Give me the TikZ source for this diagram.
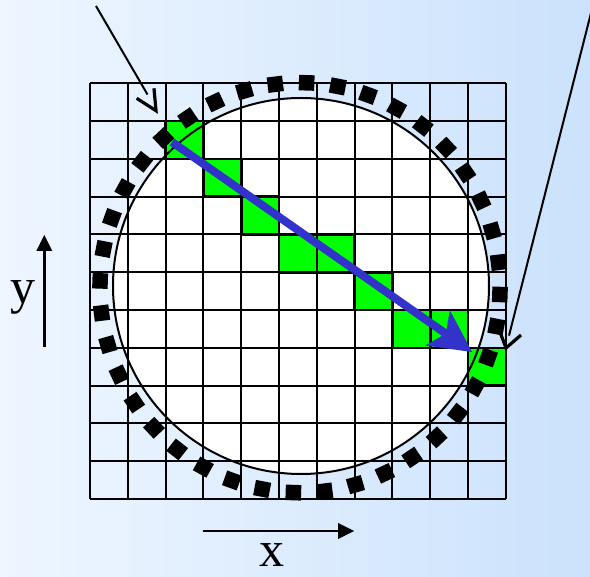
\documentclass[tikz,border=0pt]{standalone}
\usepackage{fontspec}
\setmainfont{Liberation Serif}
\usetikzlibrary{arrows.meta}
\definecolor{bgleft}{RGB}{238,246,255}
\definecolor{bgright}{RGB}{203,226,252}
\definecolor{cellgreen}{RGB}{0,255,0}
\definecolor{arrowblue}{RGB}{51,51,204}
\begin{document}
\begin{tikzpicture}[x=1pt,y=-1pt,
  gridline/.style={line width=2pt},
  greencell/.style={fill=cellgreen},
  greenedge/.style={draw=black,line width=2.6pt},
  dotsq/.style={fill=black,draw=none,minimum size=15.5pt,inner sep=0pt,outer sep=0pt},
  callout/.style={line width=2pt},
  barb/.style={line width=3.2pt},
  axisarrow/.style={line width=2.6pt,-{Triangle[length=16pt,width=16pt,line width=0pt]}},
  axislabel/.style={font=\fontsize{50}{60}\selectfont,inner sep=0pt,anchor=base}]
\useasboundingbox (0,0) rectangle (590,577);
\clip (0,0) rectangle (590,577);
\shade[left color=bgleft,right color=bgright] (0,0) rectangle (590,577);
\def\gx{90}\def\gy{83.3}\def\cs{37.8}
% white disc
\coordinate (cc) at (301,286);
\fill[white] (cc) circle[radius=188pt];
% green cells
\foreach \c/\r in {2/1,3/2,4/3,5/4,6/4,7/5,8/6,9/6,10/7}
  \fill[greencell] ({\gx+\c*\cs},{\gy+\r*\cs}) rectangle ({\gx+(\c+1)*\cs},{\gy+(\r+1)*\cs});
% grid
\foreach \i in {0,...,11} {
  \draw[gridline] ({\gx+\i*\cs},{\gy}) -- ({\gx+\i*\cs},{\gy+11*\cs});
  \draw[gridline] ({\gx},{\gy+\i*\cs}) -- ({\gx+11*\cs},{\gy+\i*\cs});
}
\foreach \c/\r in {2/1,3/2,4/3,5/4,6/4,7/5,8/6,9/6,10/7}
  \draw[greenedge] ({\gx+\c*\cs},{\gy+\r*\cs}) rectangle ({\gx+(\c+1)*\cs},{\gy+(\r+1)*\cs});
% circle outline
\draw[line width=2pt] (cc) circle[radius=188pt];
% blue arrow
\coordinate (bs) at (172,142);
\coordinate (be) at (472,352);
\draw[arrowblue,line width=8pt,-{Stealth[length=42pt,width=43pt,inset=10pt,line width=0pt]}] (bs) -- (be);
% dotted ring of squares
\foreach \i in {0,...,39} {
  \pgfmathsetmacro\ang{-88.1+9*\i}
  \pgfmathsetmacro\rot{-\ang}
  \node[dotsq,rotate=\rot] (d\i) at ({300+200*cos(\ang)},{287.7+205*sin(\ang)}) {};
}
% callout 1
\coordinate (c1s) at (96,6);
\coordinate (c1e) at (147.5,94.5);
\coordinate (c1t) at (156,110.7);
\coordinate (c1a) at (136.7,98.3);
\coordinate (c1b) at (154,88.3);
\draw[callout] (c1s) -- (c1e);
\draw[barb] (c1a) -- (c1t) -- (c1b);
% callout 2
\coordinate (c2s) at (594.3,0);
\coordinate (c2e) at (509,335.6);
\coordinate (c2t) at (506,348);
\coordinate (c2a) at (521,335);
\coordinate (c2b) at (499,329.4);
\draw[callout] (c2s) -- (c2e);
\draw[barb] (c2a) -- (c2t) -- (c2b);
% axes
\coordinate (ys) at (44.3,347);
\coordinate (ye) at (44.3,235);
\draw[axisarrow] (ys) -- (ye);
\coordinate (xs) at (202.7,531);
\coordinate (xe) at (354,531);
\draw[axisarrow] (xs) -- (xe);
\node[axislabel] (ylab) at (22.5,304) {y};
\node[axislabel] (xlab) at (272,567) {x};
\end{tikzpicture}
\end{document}
